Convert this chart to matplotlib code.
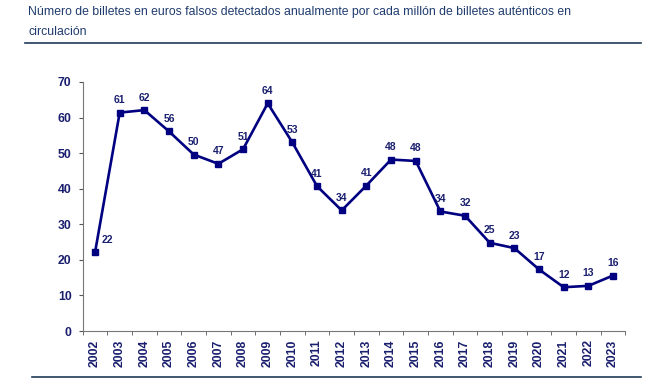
import matplotlib.pyplot as plt
from matplotlib.lines import Line2D

years = [str(y) for y in range(2002, 2024)]
values = [22.1, 61.4, 62.1, 56.1, 49.6, 47.0, 51.1, 64.0, 53.0, 40.7, 33.9,
          40.9, 48.2, 47.8, 33.6, 32.4, 24.8, 23.3, 17.3, 12.3, 12.7, 15.6]
labels = ["22", "61", "62", "56", "50", "47", "51", "64", "53", "41", "34",
          "41", "48", "48", "34", "32", "25", "23", "17", "12", "13", "16"]
y_ticks = [0, 10, 20, 30, 40, 50, 60, 70]

title = ("Número de billetes en euros falsos detectados anualmente por cada millón de billetes auténticos en\n"
         "circulación")

navy = "#000080"
label_col = "#1a1f6e"
rule_col = "#1f3b57"

plt.rcParams["font.family"] = ["Liberation Sans", "DejaVu Sans"]

fig = plt.figure(figsize=(6.56, 3.91), dpi=100)
W, H = 656, 391

# axes box in pixel coords: x 82.7..625.4, y 82..331
ax = fig.add_axes([82.7 / W, 1 - 331 / H, (625.4 - 82.7) / W, (331 - 82) / H])

x = list(range(len(years)))
ax.plot(x, values, color=navy, lw=1.9, marker="s", ms=5, zorder=3)
for xi, v, lab in zip(x, values, labels):
    dx = 9 if xi == 0 else 0
    ax.annotate(lab, (xi, v), xytext=(dx, 9), textcoords="offset points",
                ha="center", va="center", fontsize=7.5, fontweight="bold", color=label_col)

ax.set_xlim(-0.5, len(years) - 0.5)
ax.set_ylim(0, 70)
ax.set_yticks(y_ticks)
ax.set_yticklabels([str(t) for t in y_ticks], fontsize=8.8, fontweight="bold", color=label_col)
ax.set_xticks(x)
ax.set_xticklabels(years, rotation=90, fontsize=8.8, fontweight="bold", color=label_col)
ax.tick_params(axis="x", length=0, pad=6)
ax.set_xticks([i - 0.5 for i in range(len(years) + 1)], minor=True)
ax.tick_params(axis="x", which="minor", length=3, color="#555555", direction="out")
ax.tick_params(axis="y", length=3, color="#555555", direction="out", pad=5)

for s in ["top", "right"]:
    ax.spines[s].set_visible(False)
for s in ["left", "bottom"]:
    ax.spines[s].set_color("#777777")
    ax.spines[s].set_linewidth(0.8)

fig.text(28 / W, 1 - 6 / H, title, ha="left", va="top", fontsize=8.8,
         color="#1f3b6e", linespacing=1.85)

fig.add_artist(Line2D([25 / W, 641 / W], [1 - 43 / H, 1 - 43 / H], color=rule_col, lw=1.2))
fig.add_artist(Line2D([32 / W, 641 / W], [1 - 377 / H, 1 - 377 / H], color=rule_col, lw=1.2))

fig.savefig("out.png", dpi=100)
